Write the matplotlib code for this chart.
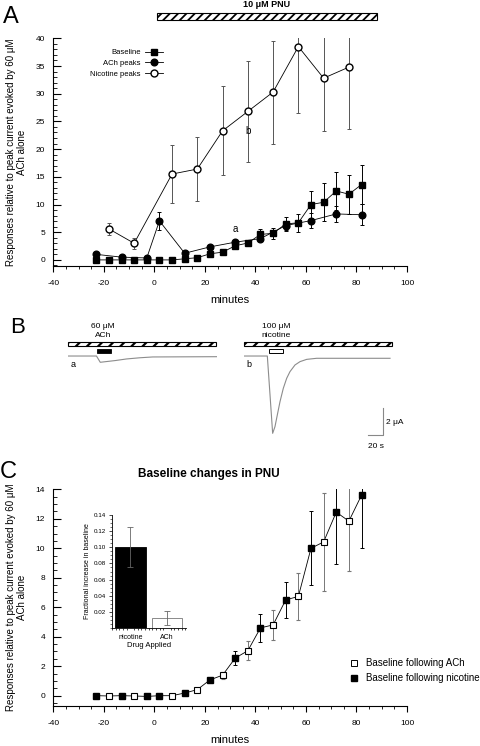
import matplotlib
matplotlib.use('Agg')
import matplotlib.pyplot as plt
from matplotlib.patches import Rectangle
from matplotlib.lines import Line2D
from matplotlib.ticker import MultipleLocator

plt.rcParams['font.family'] = ['Liberation Sans', 'DejaVu Sans']
plt.rcParams['axes.unicode_minus'] = False
plt.rcParams['hatch.linewidth'] = 1.3

# --- panel A: responses over time (minutes) ---
base_t = [-23, -18, -13, -8, -3, 2, 7, 12, 17, 22, 27, 32, 37, 42, 47, 52, 57, 62, 67, 72, 77, 82]
base_y = [0, 0, 0, 0, 0, 0, 0, 0.2, 0.4, 1.1, 1.4, 2.55, 3.05, 4.6, 4.8, 6.5, 6.7, 10.0, 10.4, 12.45, 11.85, 13.6]
base_err = [0, 0, 0, 0, 0, 0, 0, 0.05, 0.1, 0.1, 0.25, 0.45, 0.63, 0.95, 1.0, 1.2, 1.65, 2.5, 3.4, 3.5, 3.5, 3.55]

ach_t = [-23, -13, -3, 2, 12, 22, 32, 42, 52, 62, 72, 82]
ach_y = [1.0, 0.5, 0.35, 7.05, 1.2, 2.35, 3.2, 3.85, 6.2, 7.1, 8.3, 8.15]
ach_err = [0.2, 0.2, 0.2, 1.65, 0.2, 0.3, 0.4, 0.5, 0.8, 1.3, 1.4, 1.9]

nic_t = [-18, -8, 7, 17, 27, 37, 47, 57, 67, 77]
nic_y = [5.6, 3.0, 15.5, 16.4, 23.3, 26.8, 30.3, 38.5, 32.8, 34.8]
nic_err = [1.1, 1.0, 5.3, 5.8, 8.0, 9.1, 9.3, 12.0, 9.5, 11.2]

# --- panel B: example current traces (s, uA) ---
trace_a_t = [0, 38, 43, 49, 63, 78, 96, 113, 198]
trace_a_i = [0, 0, -0.47, -0.43, -0.34, -0.22, -0.13, -0.07, -0.05]
trace_b_t = [0, 31.1, 34.7, 38.2, 41.3, 44.4, 48, 52.4, 56.9, 61.3, 68, 74.7, 83.6, 96.9, 194.7]
trace_b_i = [0, 0, -2.92, -5.79, -5.29, -4.42, -3.42, -2.42, -1.67, -1.17, -0.67, -0.42, -0.25, -0.17, -0.17]

# --- panel C: baseline split by preceding drug ---
cn_t = [-23, -13, -3, 2, 12, 22, 32, 42, 52, 62, 72, 82]
cn_y = [0, 0, -0.05, 0, 0.18, 1.07, 2.55, 4.6, 6.5, 10.0, 12.45, 13.6]
cn_err = [0, 0, 0, 0, 0.05, 0.1, 0.45, 0.95, 1.2, 2.5, 3.55, 3.55]
ca_t = [-18, -8, 7, 17, 27, 37, 47, 57, 67, 77]
ca_y = [-0.02, -0.02, 0, 0.41, 1.39, 3.05, 4.8, 6.73, 10.43, 11.84]
ca_err = [0, 0, 0, 0.05, 0.25, 0.63, 1.04, 1.6, 3.35, 3.4]

# inset bars
drug = ['nicotine', 'ACh']
frac = [0.100, 0.0125]
frac_err = [0.025, 0.009]

W, H = 480, 746
fig = plt.figure(figsize=(4.8, 7.46), dpi=100)
fig.patch.set_facecolor('white')

ylab = 'Responses relative to peak current evoked by 60 μM\nACh alone'


def style_main(ax, ymin, ymax, ymajor, yminor):
    ax.set_xlim(-40, 100)
    ax.set_ylim(ymin, ymax)
    ax.spines['top'].set_visible(False)
    ax.spines['right'].set_visible(False)
    for s in ['left', 'bottom']:
        ax.spines[s].set_linewidth(0.8)
    ax.xaxis.set_major_locator(MultipleLocator(20))
    ax.xaxis.set_minor_locator(MultipleLocator(5))
    ax.yaxis.set_major_locator(MultipleLocator(ymajor))
    ax.yaxis.set_minor_locator(MultipleLocator(yminor))
    ax.tick_params(axis='x', which='major', direction='out', length=4, width=0.8, labelsize=6, pad=6)
    ax.tick_params(axis='x', which='minor', direction='out', length=2, width=0.6)
    ax.tick_params(axis='y', which='major', direction='in', length=6, width=0.8, labelsize=6, pad=6)
    ax.tick_params(axis='y', which='minor', direction='in', length=3, width=0.6)
    ax.set_xlabel('minutes', fontsize=8, labelpad=5.5)
    ax.set_ylabel(ylab, fontsize=7, labelpad=6)


# ---------------- panel A ----------------
axA = fig.add_axes([53.3 / W, 1 - 266 / H, (407 - 53.3) / W, (266 - 38.3) / H])
style_main(axA, -1.1, 40, 5, 1)
ek = dict(elinewidth=0.7, capsize=1.5, capthick=0.7)
axA.errorbar(base_t, base_y, yerr=base_err, fmt='-s', color='black', ms=4.5, lw=0.6, ecolor='black', **ek)
axA.errorbar(ach_t, ach_y, yerr=ach_err, fmt='-o', color='black', ms=4.8, lw=0.6, ecolor='black', **ek)
axA.errorbar(nic_t, nic_y, yerr=nic_err, fmt='-o', color='black', mfc='white', ms=5, lw=0.6,
             ecolor='#555555', **ek)
axA.text(32, 4.6, 'a', fontsize=7, ha='center', va='bottom')
axA.text(37, 24.2, 'b', fontsize=7, ha='center', va='top')

# PNU bar
axA.add_patch(Rectangle((1, 43.3), 87, 1.3, facecolor='white', edgecolor='black', hatch='////',
                        lw=0.8, clip_on=False))
axA.text(44.5, 45.3, '10 μM PNU', fontsize=6.5, fontweight='bold', ha='center', va='bottom')

hA = [Line2D([], [], color='black', marker='s', ms=4.5, lw=0.6),
      Line2D([], [], color='black', marker='o', ms=4.8, lw=0.6),
      Line2D([], [], color='black', marker='o', mfc='white', ms=5, lw=0.6)]
axA.legend(hA, ['Baseline', 'ACh peaks', 'Nicotine peaks'], loc='upper right',
           bbox_to_anchor=(163 / W, 1 - 49 / H), bbox_transform=fig.transFigure,
           markerfirst=False, frameon=False, fontsize=5.5, handlelength=2.4,
           handletextpad=0.5, labelspacing=0.45, borderaxespad=0, borderpad=0)

fig.text(3 / W, 1 - 23 / H, 'A', fontsize=17, va='baseline')

# ---------------- panel B ----------------
plt.rcParams['hatch.linewidth'] = 1.6
bb = 1 - 440 / H
bh = 100 / H
axBa = fig.add_axes([68 / W, bb, 149 / W, bh])
axBb = fig.add_axes([244 / W, bb, 149 / W, bh])
for ax in (axBa, axBb):
    ax.set_xlim(0, 149 / 0.75)
    ax.set_ylim(-6.29, 1.2)
    ax.axis('off')
    ax.add_patch(Rectangle((0, 0.75), 197.5, 0.27, facecolor='white', edgecolor='black',
                           hatch='///', lw=0.8, clip_on=False))

axBa.plot(trace_a_t, trace_a_i, color='#8c8c8c', lw=0.8)
axBa.add_patch(Rectangle((38.7, 0.25), 18.6, 0.25, facecolor='black', edgecolor='black', lw=0.6))
axBa.text(46.7, 1.3, '60 μM\nACh', fontsize=6, ha='center', va='bottom', linespacing=1.35)
axBa.text(4, -0.3, 'a', fontsize=6.5, ha='left', va='top')

axBb.plot(trace_b_t, trace_b_i, color='#8c8c8c', lw=0.8)
axBb.add_patch(Rectangle((33.3, 0.25), 18.7, 0.25, facecolor='white', edgecolor='black', lw=0.7))
axBb.text(42.7, 1.3, '100 μM\nnicotine', fontsize=6, ha='center', va='bottom', linespacing=1.35)
axBb.text(3, -0.3, 'b', fontsize=6.5, ha='left', va='top')

# scale bars
axBb.plot([165.7, 185.7, 185.7], [-5.92, -5.92, -3.92], color='#888888', lw=0.8, clip_on=False)
axBb.text(190, -5.0, '2 μA', fontsize=6, ha='left', va='center')
axBb.text(176, -6.75, '20 s', fontsize=6, ha='center', va='center')

fig.text(10 / W, 1 - 333 / H, 'B', fontsize=16, va='baseline')

# ---------------- panel C ----------------
axC = fig.add_axes([53.3 / W, 1 - 706 / H, (407 - 53.3) / W, (706 - 489.3) / H])
style_main(axC, -0.7, 14, 2, 0.5)
all_t = sorted(cn_t + ca_t)
lookup = dict(zip(cn_t + ca_t, cn_y + ca_y))
axC.plot(all_t, [lookup[t] for t in all_t], color='black', lw=0.6, zorder=1)
axC.errorbar(ca_t, ca_y, yerr=ca_err, fmt='s', color='black', mfc='white', ms=5, mew=0.8,
             ecolor='#777777', zorder=3, **ek)
axC.errorbar(cn_t, cn_y, yerr=cn_err, fmt='s', color='black', ms=5, ecolor='black', zorder=3, **ek)

hC = [Line2D([], [], ls='none', marker='s', color='black', mfc='white', ms=4.5, mew=0.7),
      Line2D([], [], ls='none', marker='s', color='black', ms=4.5)]
axC.legend(hC, ['Baseline following ACh', 'Baseline following nicotine'], loc='upper left',
           bbox_to_anchor=(349 / W, 1 - 658 / H), bbox_transform=fig.transFigure,
           frameon=False, fontsize=7, handlelength=1.0, handletextpad=0.8,
           labelspacing=0.55, borderaxespad=0, borderpad=0)

fig.text(209 / W, 1 - 474 / H, 'Baseline changes in PNU', fontsize=8.5, fontweight='bold',
         ha='center', va='center')
fig.text(0, 1 - 478 / H, 'C', fontsize=17, va='baseline')

# inset
axI = fig.add_axes([112 / W, 1 - 628 / H, 74 / W, 113 / H])
axI.bar([0, 1], frac, width=0.84, color=['black', 'white'], edgecolor=['black', '#777777'],
        lw=0.6, yerr=frac_err, error_kw=dict(elinewidth=0.6, capsize=2, capthick=0.6,
                                             ecolor='#666666'))
axI.set_xlim(-0.5, 1.52)
axI.set_ylim(0, 0.14)
axI.spines['top'].set_visible(False)
axI.spines['right'].set_visible(False)
for s in ['left', 'bottom']:
    axI.spines[s].set_linewidth(0.6)
axI.set_xticks([0, 1])
axI.set_xticklabels(drug)
axI.xaxis.set_minor_locator(MultipleLocator(0.1))
axI.set_yticks([0.02, 0.04, 0.06, 0.08, 0.10, 0.12, 0.14])
axI.set_yticklabels(['0.02', '0.04', '0.06', '0.08', '0.10', '0.12', '0.14'])
axI.yaxis.set_minor_locator(MultipleLocator(0.005))
axI.tick_params(axis='x', which='major', length=0, labelsize=5, pad=4)
axI.tick_params(axis='x', which='minor', direction='out', length=1.5, width=0.5)
axI.tick_params(axis='y', which='major', direction='out', length=2.5, width=0.5, labelsize=4.5, pad=1.5)
axI.tick_params(axis='y', which='minor', direction='out', length=1.2, width=0.4)
axI.set_xlabel('Drug Applied', fontsize=5.5, labelpad=1)
axI.set_ylabel('Fractional increase in baseline', fontsize=5, labelpad=2)

fig.savefig('out.png', dpi=100)
